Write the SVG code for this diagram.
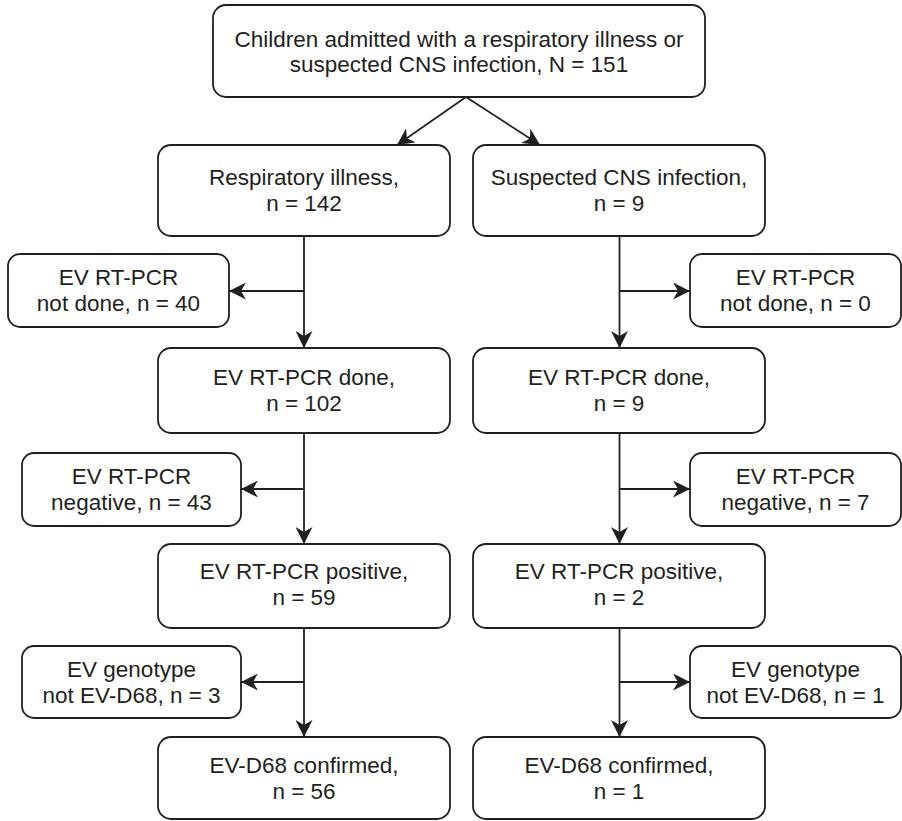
<svg xmlns="http://www.w3.org/2000/svg" width="902" height="821" viewBox="0 0 902 821">
<defs>
<style>
.box{fill:#fff;stroke:#231f20;stroke-width:1.8}
.t{font-family:"Liberation Sans",Arial,sans-serif;font-size:22.5px;fill:#231f20;text-anchor:middle}
.c{fill:none;stroke:#231f20;stroke-width:1.8}
.a{marker-end:url(#ah)}
</style>
<marker id="ah" markerUnits="userSpaceOnUse" markerWidth="17" markerHeight="17" viewBox="0 0 17 17" refX="17" refY="8.5" orient="auto">
<path d="M0,0 L17,8.5 L0,17 L5,8.5 Z" fill="#231f20"/>
</marker>
</defs>
<rect width="902" height="821" fill="#fff"/>
<g id="connectors">
<path class="c a" d="M466,97 L397,145"/>
<path class="c a" d="M466,97 L540,145"/>
<path class="c a" d="M304,236 L304,348"/>
<path class="c a" d="M304,291 L229,291"/>
<path class="c a" d="M304,433 L304,544"/>
<path class="c a" d="M304,489 L241,489"/>
<path class="c a" d="M304,628 L304,737"/>
<path class="c a" d="M304,682 L241,682"/>
<path class="c a" d="M619.5,236 L619.5,348"/>
<path class="c a" d="M619.5,291 L690,291"/>
<path class="c a" d="M619.5,433 L619.5,544"/>
<path class="c a" d="M619.5,489 L690,489"/>
<path class="c a" d="M619.5,628 L619.5,737"/>
<path class="c a" d="M619.5,682 L690,682"/>
</g>
<g id="n-top"><rect class="box" x="213" y="5" width="492" height="92" rx="13"/>
<text class="t" x="459" y="47">Children admitted with a respiratory illness or</text>
<text class="t" x="459" y="72">suspected CNS infection, N = 151</text></g>
<g id="n-resp"><rect class="box" x="158" y="145" width="292" height="91" rx="13"/>
<text class="t" x="304" y="185">Respiratory illness,</text>
<text class="t" x="304" y="211">n = 142</text></g>
<g id="n-cns"><rect class="box" x="473" y="145" width="292" height="91" rx="13"/>
<text class="t" x="619" y="185">Suspected CNS infection,</text>
<text class="t" x="619" y="211">n = 9</text></g>
<g id="n-notdone-l"><rect class="box" x="8" y="254" width="221" height="73" rx="12"/>
<text class="t" x="118.5" y="285">EV RT-PCR</text>
<text class="t" x="118.5" y="311">not done, n = 40</text></g>
<g id="n-notdone-r"><rect class="box" x="690" y="254" width="211" height="73" rx="12"/>
<text class="t" x="795.5" y="285">EV RT-PCR</text>
<text class="t" x="795.5" y="311">not done, n = 0</text></g>
<g id="n-done-l"><rect class="box" x="158" y="348" width="292" height="85" rx="13"/>
<text class="t" x="304" y="385">EV RT-PCR done,</text>
<text class="t" x="304" y="411">n = 102</text></g>
<g id="n-done-r"><rect class="box" x="473" y="348" width="292" height="85" rx="13"/>
<text class="t" x="619" y="385">EV RT-PCR done,</text>
<text class="t" x="619" y="411">n = 9</text></g>
<g id="n-neg-l"><rect class="box" x="22" y="453" width="219" height="73" rx="12"/>
<text class="t" x="131.5" y="484">EV RT-PCR</text>
<text class="t" x="131.5" y="510">negative, n = 43</text></g>
<g id="n-neg-r"><rect class="box" x="690" y="453" width="211" height="73" rx="12"/>
<text class="t" x="795.5" y="484">EV RT-PCR</text>
<text class="t" x="795.5" y="510">negative, n = 7</text></g>
<g id="n-pos-l"><rect class="box" x="158" y="544" width="292" height="84" rx="13"/>
<text class="t" x="304" y="579">EV RT-PCR positive,</text>
<text class="t" x="304" y="605">n = 59</text></g>
<g id="n-pos-r"><rect class="box" x="473" y="544" width="292" height="84" rx="13"/>
<text class="t" x="619" y="579">EV RT-PCR positive,</text>
<text class="t" x="619" y="605">n = 2</text></g>
<g id="n-geno-l"><rect class="box" x="22" y="646" width="219" height="72" rx="12"/>
<text class="t" x="131.5" y="677">EV genotype</text>
<text class="t" x="131.5" y="703">not EV-D68, n = 3</text></g>
<g id="n-geno-r"><rect class="box" x="690" y="646" width="211" height="72" rx="12"/>
<text class="t" x="795.5" y="677">EV genotype</text>
<text class="t" x="795.5" y="703">not EV-D68, n = 1</text></g>
<g id="n-conf-l"><rect class="box" x="158" y="737" width="292" height="82" rx="13"/>
<text class="t" x="304" y="773">EV-D68 confirmed,</text>
<text class="t" x="304" y="799">n = 56</text></g>
<g id="n-conf-r"><rect class="box" x="473" y="737" width="292" height="82" rx="13"/>
<text class="t" x="619" y="773">EV-D68 confirmed,</text>
<text class="t" x="619" y="799">n = 1</text></g>
</svg>
